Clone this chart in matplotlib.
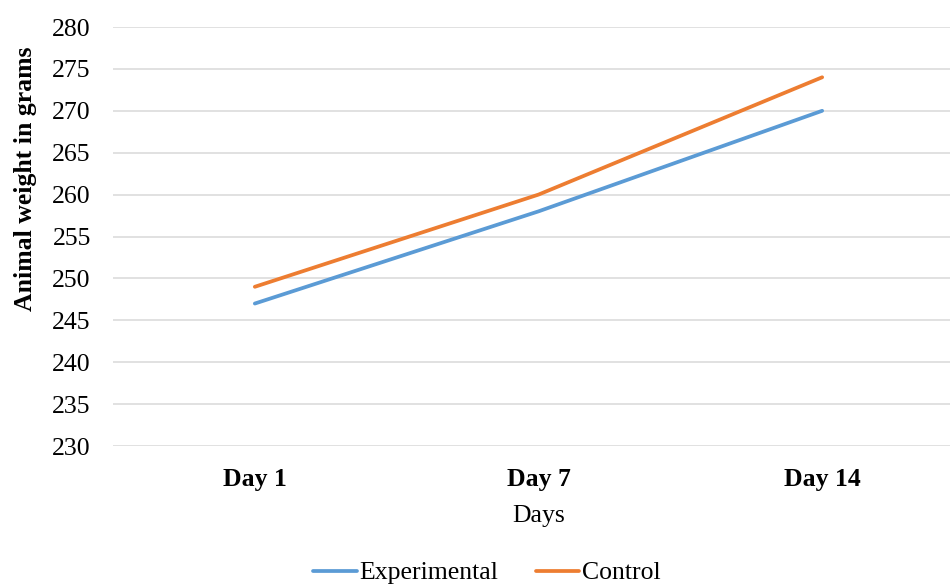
import matplotlib
matplotlib.use('Agg')
import matplotlib.pyplot as plt
import numpy as np

days = ['Day 1', 'Day 7', 'Day 14']
experimental = [247, 258, 270]
control = [249, 260, 274]
y_ticks = list(range(230, 281, 5))

plt.rcParams['font.family'] = ['Liberation Serif', 'DejaVu Serif']

fig = plt.figure(figsize=(9.5, 5.86), dpi=100)
ax = fig.add_axes([113 / 950, 1 - 446 / 586, (964 - 113) / 950, (446 - 27) / 586])

x = np.arange(len(days))
ax.plot(x, experimental, color='#5B9BD5', linewidth=2.7, label='Experimental', solid_capstyle='round')
ax.plot(x, control, color='#ED7D31', linewidth=2.7, label='Control', solid_capstyle='round')

ax.set_xlim(-0.5, 2.5)
ax.set_ylim(230, 280)
ax.set_yticks(y_ticks)
ax.set_xticks(x)
ax.set_xticklabels(days, fontweight='bold')
ax.tick_params(axis='both', length=0, labelsize=18.5)
ax.tick_params(axis='y', pad=16)
ax.tick_params(axis='x', pad=16)
ax.yaxis.grid(True, color='#D9D9D9', linewidth=1.1)
ax.set_axisbelow(True)
for sp in ax.spines.values():
    sp.set_visible(False)

ax.set_xlabel('Days', fontsize=18.5, labelpad=10)
ax.set_ylabel('Animal weight in grams', fontsize=18.5, fontweight='bold')
ax.yaxis.set_label_coords(-0.089, 0.637)

fig.legend(loc='center', bbox_to_anchor=(487 / 950, 1 - 573 / 586), ncol=2, frameon=False,
           fontsize=18.5, handlelength=1.7, handletextpad=0.1, columnspacing=1.45)

fig.savefig('out.png', dpi=100)
